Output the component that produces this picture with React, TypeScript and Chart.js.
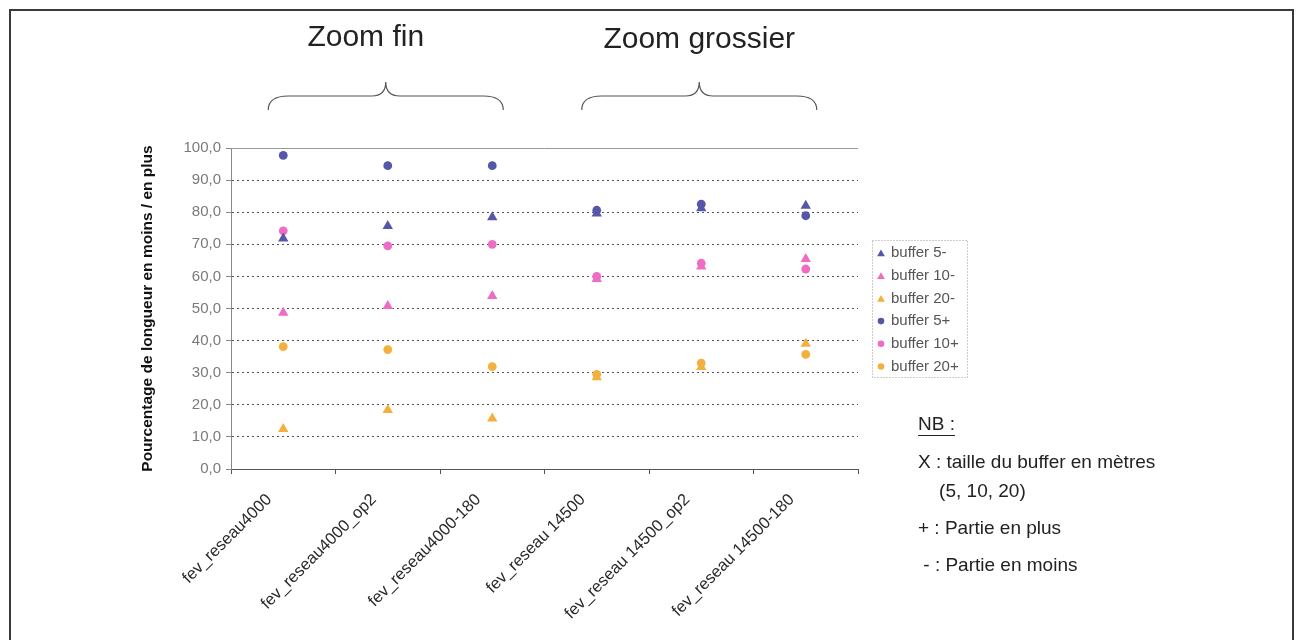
import React, { useEffect, useRef } from 'react';
import { Chart, registerables } from 'chart.js';

Chart.register(...registerables);

const categories = [
  'fev_reseau4000',
  'fev_reseau4000_op2',
  'fev_reseau4000-180',
  'fev_reseau 14500',
  'fev_reseau 14500_op2',
  'fev_reseau 14500-180',
];

const buffer5Minus = [71.8, 75.7, 78.4, 79.6, 81.2, 82.0];
const buffer10Minus = [48.7, 50.8, 53.9, 59.2, 63.1, 65.4];
const buffer20Minus = [12.5, 18.4, 15.7, 28.6, 31.8, 39.0];
const buffer5Plus = [97.7, 94.5, 94.5, 80.6, 82.5, 78.9];
const buffer10Plus = [74.2, 69.5, 70.0, 60.0, 64.1, 62.3];
const buffer20Plus = [38.1, 37.2, 31.9, 29.5, 33.0, 35.7];

const seriesLabels = ['buffer 5-', 'buffer 10-', 'buffer 20-', 'buffer 5+', 'buffer 10+', 'buffer 20+'];

const groupTitles = ['Zoom fin', 'Zoom grossier'];
const groupFirst = [0, 3];
const groupLast = [2, 5];

const yAxisTitle = 'Pourcentage de longueur en moins / en plus';

const noteTitle = 'NB :';
const noteLines = ['X : taille du buffer en mètres', '    (5, 10, 20)', '+ : Partie en plus', ' - : Partie en moins'];

const BLUE = '#5657a8';
const PINK = '#ef6cc4';
const ORANGE = '#f4b03e';
const FONT = '"Liberation Sans", Arial, sans-serif';

function drawMarker(ctx: CanvasRenderingContext2D, style: string, x: number, y: number, r: number, color: string) {
  ctx.save();
  ctx.fillStyle = color;
  ctx.beginPath();
  if (style === 'triangle') {
    let rad = 0;
    ctx.moveTo(x + Math.sin(rad) * r, y - Math.cos(rad) * r);
    rad += (2 * Math.PI) / 3;
    ctx.lineTo(x + Math.sin(rad) * r, y - Math.cos(rad) * r);
    rad += (2 * Math.PI) / 3;
    ctx.lineTo(x + Math.sin(rad) * r, y - Math.cos(rad) * r);
    ctx.closePath();
  } else {
    ctx.arc(x, y, r, 0, Math.PI * 2);
  }
  ctx.fill();
  ctx.restore();
}

const titleShift = [-20, 0];
const titleY = [38, 40];

const decorPlugin = {
  id: 'decor',
  afterDraw(chart: any) {
    const ctx: CanvasRenderingContext2D = chart.ctx;
    const area = chart.chartArea;
    const xs = chart.scales.x;

    ctx.save();
    // outer frame
    ctx.strokeStyle = '#3a3a3a';
    ctx.lineWidth = 2;
    ctx.beginPath();
    ctx.moveTo(10, 641);
    ctx.lineTo(10, 10);
    ctx.lineTo(1293, 10);
    ctx.lineTo(1293, 641);
    ctx.stroke();

    // plot top border
    ctx.strokeStyle = '#999';
    ctx.lineWidth = 1;
    ctx.beginPath();
    ctx.moveTo(area.left, area.top + 0.5);
    ctx.lineTo(area.right, area.top + 0.5);
    ctx.stroke();

    // group titles and braces
    for (let g = 0; g < groupTitles.length; g++) {
      const x1 = xs.getPixelForValue(groupFirst[g]) - 15;
      const x2 = xs.getPixelForValue(groupLast[g]) + 11;
      const mid = (x1 + x2) / 2;
      ctx.fillStyle = '#222';
      ctx.font = `30px ${FONT}`;
      ctx.textAlign = 'center';
      ctx.textBaseline = 'middle';
      ctx.fillText(groupTitles[g], mid + titleShift[g], titleY[g]);

      const yTop = 82, yMid = 96, yEnd = 110;
      ctx.strokeStyle = '#555';
      ctx.lineWidth = 1.2;
      ctx.beginPath();
      ctx.moveTo(x1, yEnd);
      ctx.quadraticCurveTo(x1, yMid, x1 + 20, yMid);
      ctx.lineTo(mid - 14, yMid);
      ctx.quadraticCurveTo(mid, yMid, mid, yTop);
      ctx.quadraticCurveTo(mid, yMid, mid + 14, yMid);
      ctx.lineTo(x2 - 20, yMid);
      ctx.quadraticCurveTo(x2, yMid, x2, yEnd);
      ctx.stroke();
    }

    // legend
    const lx = 872, ly = 240, lw = 95, lh = 137;
    ctx.strokeStyle = '#999';
    ctx.setLineDash([1, 2]);
    ctx.lineWidth = 1;
    ctx.strokeRect(lx + 0.5, ly + 0.5, lw, lh);
    ctx.setLineDash([]);
    ctx.font = `15px ${FONT}`;
    ctx.textAlign = 'left';
    ctx.textBaseline = 'middle';
    chart.data.datasets.forEach((ds: any, i: number) => {
      const y = ly + 13 + i * 22.7;
      const isTri = ds.pointStyle === 'triangle';
      drawMarker(ctx, ds.pointStyle, lx + 9, isTri ? y + 1 : y, isTri ? 4.5 : 3.3, ds.backgroundColor);
      ctx.fillStyle = '#555';
      ctx.fillText(ds.label, lx + 19, y);
    });

    // notes
    ctx.fillStyle = '#222';
    ctx.font = `19px ${FONT}`;
    ctx.textAlign = 'left';
    ctx.textBaseline = 'middle';
    ctx.fillText(noteTitle, 918, 425);
    const w = ctx.measureText(noteTitle).width;
    ctx.strokeStyle = '#222';
    ctx.lineWidth = 1;
    ctx.beginPath();
    ctx.moveTo(918, 435.5);
    ctx.lineTo(918 + w, 435.5);
    ctx.stroke();
    const lineYs = [463, 492, 529, 566];
    noteLines.forEach((t, i) => ctx.fillText(t, 918, lineYs[i]));
    ctx.restore();
  },
};

function makeDataset(label: string, data: number[], color: string, style: string) {
  return {
    label,
    data,
    showLine: false,
    pointStyle: style,
    pointRadius: style === 'triangle' ? 6 : 4.4,
    pointHoverRadius: style === 'triangle' ? 6 : 4.4,
    pointBorderWidth: 0,
    backgroundColor: color,
    borderColor: color,
  };
}

export default function App() {
  const ref = useRef<HTMLCanvasElement | null>(null);

  useEffect(() => {
    document.body.style.margin = '0';
    const canvas = ref.current!;
    const chart = new Chart(canvas, {
      type: 'line',
      data: {
        labels: categories,
        datasets: [
          makeDataset(seriesLabels[0], buffer5Minus, BLUE, 'triangle'),
          makeDataset(seriesLabels[1], buffer10Minus, PINK, 'triangle'),
          makeDataset(seriesLabels[2], buffer20Minus, ORANGE, 'triangle'),
          makeDataset(seriesLabels[3], buffer5Plus, BLUE, 'circle'),
          makeDataset(seriesLabels[4], buffer10Plus, PINK, 'circle'),
          makeDataset(seriesLabels[5], buffer20Plus, ORANGE, 'circle'),
        ],
      },
      options: {
        responsive: false,
        animation: false,
        devicePixelRatio: 1,
        layout: { padding: { left: 138, right: 1297 - 858, top: 148, bottom: 0 } },
        plugins: { legend: { display: false }, tooltip: { enabled: false } },
        scales: {
          x: {
            type: 'category',
            offset: true,
            grid: { offset: true, drawOnChartArea: false, drawTicks: true, tickLength: 5, color: '#555' },
            border: { color: '#555', width: 1 },
            ticks: {
              autoSkip: false,
              minRotation: 45,
              maxRotation: 45,
              padding: 16,
              labelOffset: -14,
              color: '#2a2a2a',
              font: { family: FONT, size: 16.5 },
            },
            afterFit: (s: any) => {
              s.height = 640 - 469;
            },
          },
          y: {
            min: 0,
            max: 100,
            ticks: {
              stepSize: 10,
              padding: 5,
              color: '#7a7a7a',
              font: { family: FONT, size: 15 },
              callback: (v: any) => Number(v).toFixed(1).replace('.', ','),
            },
            grid: {
              color: (c: any) => (c.tick && (c.tick.value === 0 || c.tick.value === 100) ? 'rgba(0,0,0,0)' : '#555'),
              tickLength: 5,
              tickColor: '#888',
            },
            border: { color: '#888', width: 1, dash: [2, 3] },
            title: {
              display: true,
              text: yAxisTitle,
              color: '#111',
              padding: 0,
              font: { family: FONT, size: 15.5, weight: 'bold' },
            },
            afterFit: (s: any) => {
              s.width = 231 - 138;
            },
          },
        },
      } as any,
      plugins: [decorPlugin],
    });
    return () => chart.destroy();
  }, []);

  return (
    <div style={{ position: 'absolute', left: 0, top: 0, width: 1297, height: 640, background: '#fff' }}>
      <canvas ref={ref} width={1297} height={640} style={{ display: 'block', width: 1297, height: 640 }} />
    </div>
  );
}
